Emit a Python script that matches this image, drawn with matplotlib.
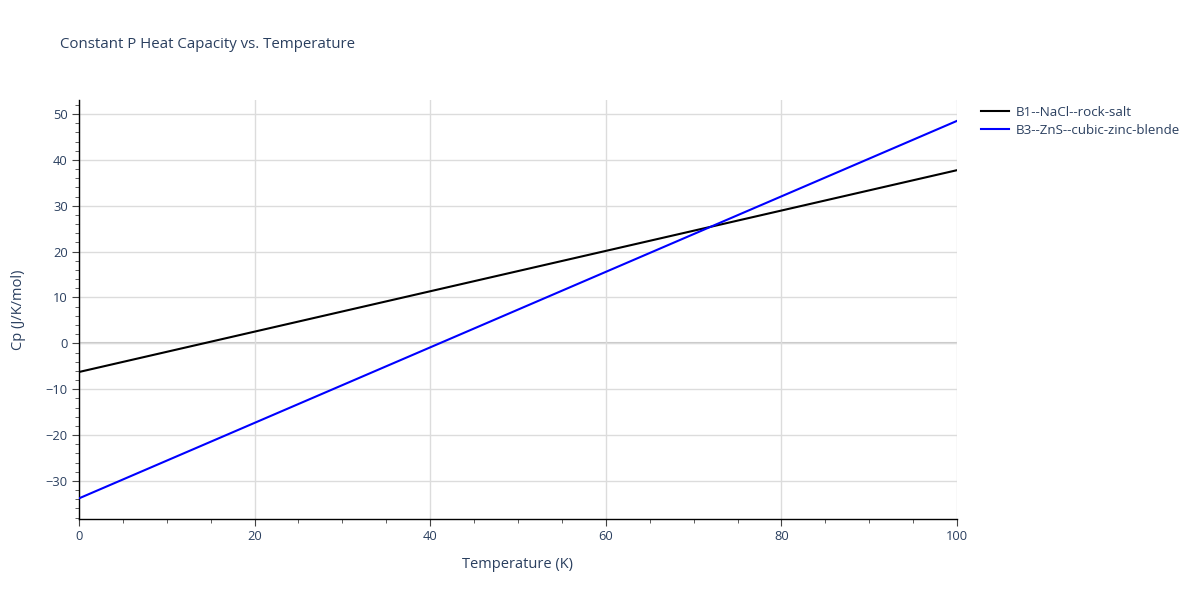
import matplotlib
matplotlib.use("Agg")
import matplotlib.pyplot as plt
from matplotlib.ticker import MultipleLocator

temperature = [0, 100]
b1_cp = [-6.25, 37.75]
b3_cp = [-33.8, 48.5]
series_names = ["B1--NaCl--rock-salt", "B3--ZnS--cubic-zinc-blende"]

plt.rcParams['font.family'] = ['Open Sans', 'DejaVu Sans']
txt = '#2a3f5f'

fig = plt.figure(figsize=(12, 6), dpi=100)
ax = fig.add_axes([79/1200, 81/600, (957-79)/1200, (519-100)/600])

ax.plot(temperature, b1_cp, color='black', lw=1.5, label=series_names[0], zorder=3)
ax.plot(temperature, b3_cp, color='blue', lw=1.5, label=series_names[1], zorder=3)

ax.set_xlim(0, 100)
ax.set_ylim(-38.3, 53.05)
ax.xaxis.set_major_locator(MultipleLocator(20))
ax.xaxis.set_minor_locator(MultipleLocator(5))
ax.yaxis.set_major_locator(MultipleLocator(10))
ax.yaxis.set_minor_locator(MultipleLocator(2))
ax.grid(True, which='major', color='#dcdcdc', lw=1, zorder=0)
ax.axhline(0, color='#c8c8c8', lw=1.5, zorder=1)

for s in ['top', 'right']:
    ax.spines[s].set_visible(False)
for s in ['left', 'bottom']:
    ax.spines[s].set_color('black')
    ax.spines[s].set_linewidth(1)

ax.tick_params(which='major', direction='out', length=5, color='#444444', labelsize=9.3, labelcolor=txt, pad=3)
ax.tick_params(which='minor', direction='out', length=3, color='#444444')

ax.set_xlabel('Temperature (K)', fontsize=10.5, color=txt, labelpad=10)
ax.set_ylabel('Cp (J/K/mol)', fontsize=10.5, color=txt, labelpad=14)
fig.text(60/1200, 1-45/600, 'Constant P Heat Capacity vs. Temperature', fontsize=10.8, color=txt, va='center', ha='left')

leg = fig.legend(loc='upper left', bbox_to_anchor=(981/1200, 1-106/600), frameon=False,
                 fontsize=9.6, handlelength=2.1, labelcolor=txt, borderaxespad=0, borderpad=0,
                 handletextpad=0.5, labelspacing=0.35)

fig.savefig('out.png', dpi=100)
